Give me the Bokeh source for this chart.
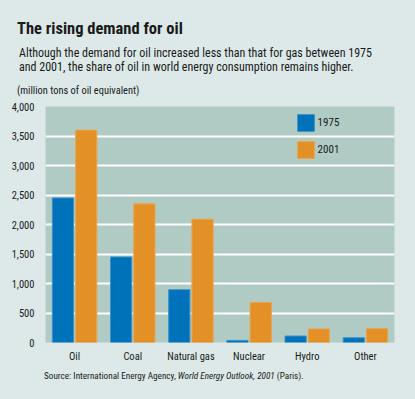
from bokeh.plotting import figure
from bokeh.models import ColumnDataSource, Legend, LegendItem, FactorRange, Div
from bokeh.models import FixedTicker, NumeralTickFormatter
from bokeh.layouts import column
from bokeh.transform import dodge
from bokeh.embed import file_html
from bokeh.resources import INLINE

categories = ["Oil", "Coal", "Natural gas", "Nuclear", "Hydro", "Other"]
values_1975 = [2450, 1450, 895, 35, 110, 80]
values_2001 = [3600, 2350, 2090, 680, 230, 235]
series_names = ["1975", "2001"]
y_ticks = [0, 500, 1000, 1500, 2000, 2500, 3000, 3500, 4000]

title_text = "The rising demand for oil"
subtitle_lines = ["Although the demand for oil increased less than that for gas between 1975",
                  "and 2001, the share of oil in world energy consumption remains higher."]
unit_text = "(million tons of oil equivalent)"
source_parts = ["Source: International Energy Agency, ", "World Energy Outlook, 2001", " (Paris)."]

FONT = "Roboto Condensed"
BG = "#dce9e8"
PLOT_BG = "#b0cbc3"
BLUE = "#0072b9"
ORANGE = "#e39127"
TXT = "#1a1a1a"
W = 415

def txt(left, top, size, content, weight="normal"):
    return ('<div style="position:absolute;left:%spx;top:%spx;font-family:\'%s\';font-size:%spx;'
            'font-weight:%s;line-height:1;white-space:nowrap;color:%s">%s</div>'
            % (left, top, FONT, size, weight, TXT, content))

header_html = ('<div style="position:relative;width:%dpx;height:98px">' % W
               + txt(17, 20.6, 16.5, title_text, "bold")
               + txt(19, 47.2, 12, subtitle_lines[0])
               + txt(19, 60.9, 12, subtitle_lines[1])
               + txt(17, 86.3, 10.4, unit_text)
               + '</div>')
header = Div(text=header_html, width=W, height=98, margin=0,
             styles={"background-color": BG})

src = ColumnDataSource(dict(cat=categories, v1975=values_1975, v2001=values_2001))

p = figure(x_range=FactorRange(*categories, range_padding=0), y_range=(0, 4000),
           width=W, height=8 + 237 + 22, output_backend="svg", toolbar_location=None,
           min_border_left=45, min_border_right=21, min_border_top=8, min_border_bottom=22,
           margin=0)
p.background_fill_color = PLOT_BG
p.border_fill_color = BG
p.outline_line_color = None

p.xgrid.grid_line_color = None
p.ygrid.grid_line_color = "white"
p.ygrid.grid_line_width = 2
p.ygrid.ticker = FixedTicker(ticks=y_ticks)

r1 = p.vbar(x=dodge("cat", -0.2, range=p.x_range), top="v1975", width=0.365, source=src,
            fill_color=BLUE, line_color="#3d92c8", line_width=1)
r2 = p.vbar(x=dodge("cat", 0.2, range=p.x_range), top="v2001", width=0.365, source=src,
            fill_color=ORANGE, line_color="#eaa452", line_width=1)

p.yaxis.ticker = FixedTicker(ticks=y_ticks)
p.yaxis.formatter = NumeralTickFormatter(format="0,0")
for ax in (p.xaxis[0], p.yaxis[0]):
    ax.axis_line_color = None
    ax.major_tick_line_color = None
    ax.minor_tick_line_color = None
    ax.major_label_text_font = FONT
    ax.major_label_text_font_size = "10.5px"
    ax.major_label_text_color = TXT
p.yaxis.major_label_standoff = 5
p.xaxis.major_label_standoff = 1

legend = Legend(items=[LegendItem(label=series_names[0], renderers=[r1]),
                       LegendItem(label=series_names[1], renderers=[r2])],
                location=(249.6, 182), orientation="vertical",
                background_fill_alpha=0, border_line_color=None,
                padding=0, margin=0, spacing=6,
                glyph_width=21, glyph_height=21, label_height=21,
                label_standoff=2, label_text_font=FONT, label_text_font_size="11px",
                label_text_color=TXT)
p.add_layout(legend)

footer_html = ('<div style="position:relative;width:%dpx;height:34px">' % W
               + txt(44, 5.5, 9.2, source_parts[0] + "<i>" + source_parts[1] + "</i>" + source_parts[2])
               + '</div>')
footer = Div(text=footer_html, width=W, height=34, margin=0,
             styles={"background-color": BG})

layout = column(header, p, footer, spacing=0, margin=0, styles={"background-color": BG})

html = file_html(layout, INLINE)
html = html.replace("<body>", '<body style="background:%s">' % BG)
open("out.html", "w").write(html)
